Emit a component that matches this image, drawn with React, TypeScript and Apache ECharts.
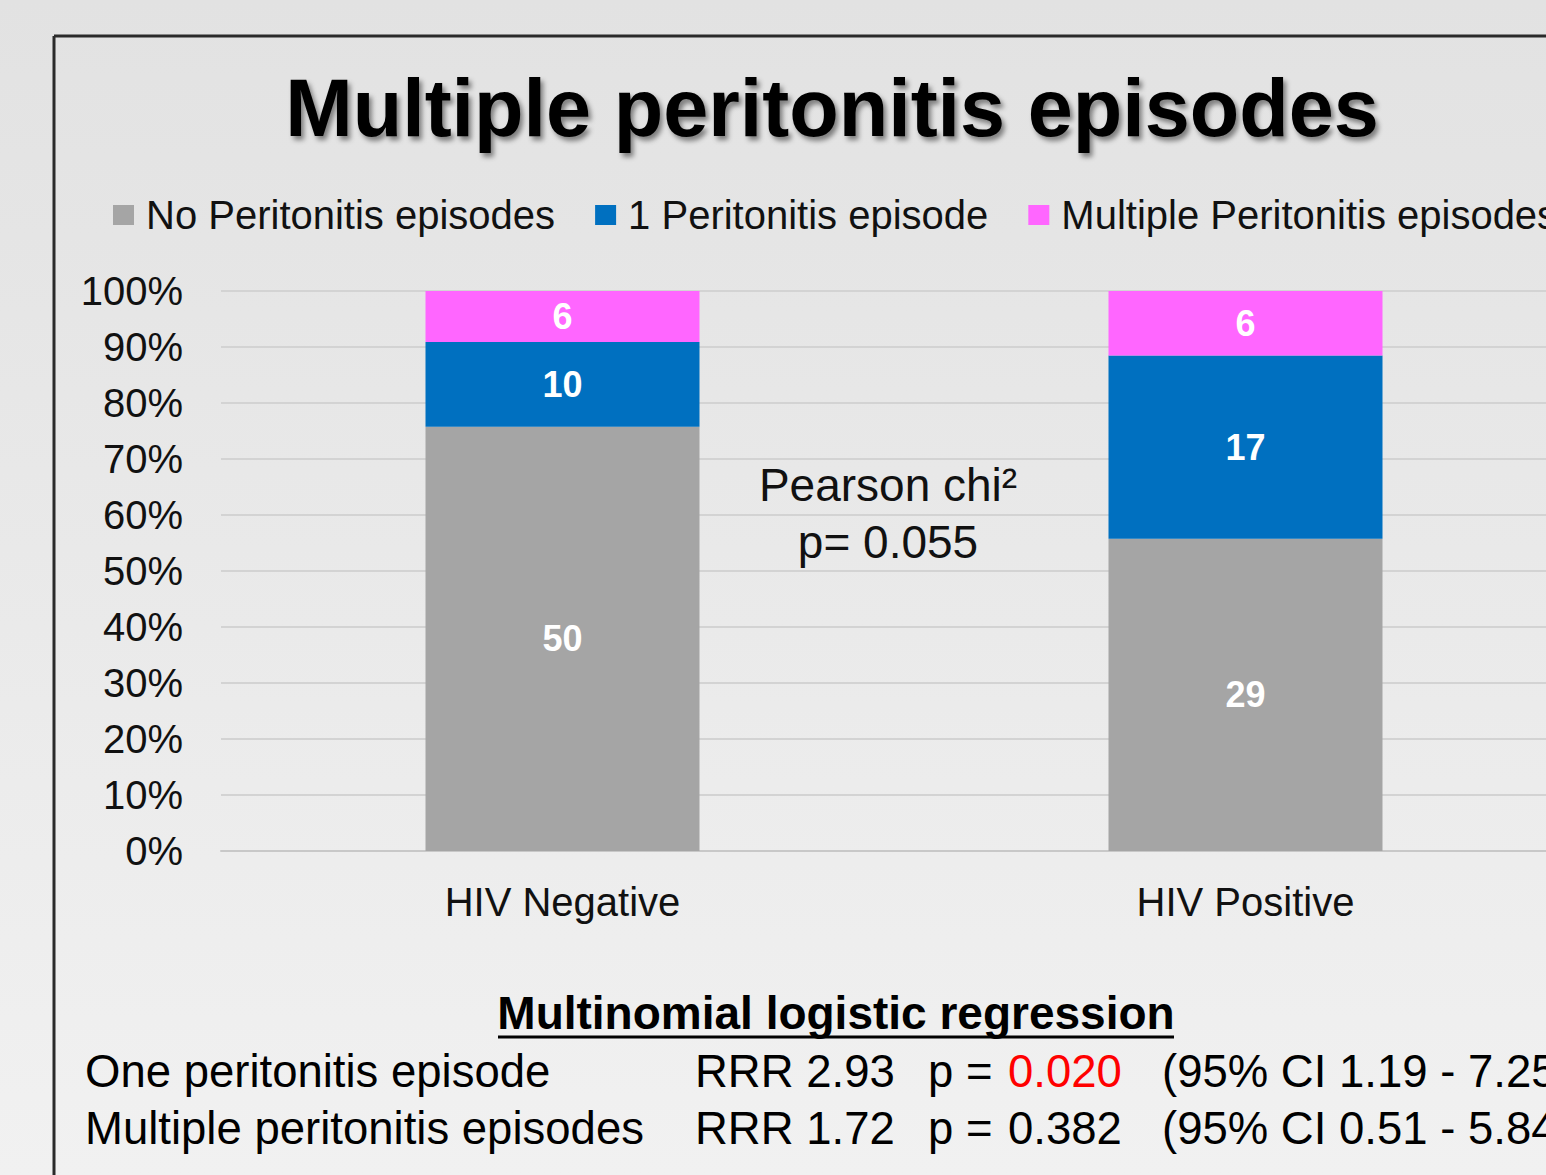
import React, { useEffect, useRef } from "react";
import * as echarts from "echarts";

const categories = ["HIV Negative", "HIV Positive"];
const seriesNames = ["No Peritonitis episodes", "1 Peritonitis episode", "Multiple Peritonitis episodes"];
const noEpisodes = [50, 29];
const oneEpisode = [10, 17];
const multipleEpisodes = [6, 6];
const seriesColors = ["#a5a5a5", "#0070c0", "#ff66ff"];
const yTicks = [0, 10, 20, 30, 40, 50, 60, 70, 80, 90, 100];

const FONT = "'Liberation Sans', Arial, sans-serif";

export default function App() {
  const ref = useRef<HTMLDivElement>(null);
  useEffect(() => {
    if (!ref.current) return;
    const chart = echarts.init(ref.current, null, { renderer: "svg" });
    const counts = [noEpisodes, oneEpisode, multipleEpisodes];
    const totals = categories.map((_, i) => counts.reduce((s, arr) => s + arr[i], 0));
    const series = counts.map((arr, si) => ({
      name: seriesNames[si],
      type: "bar",
      stack: "total",
      barWidth: 274,
      itemStyle: { color: seriesColors[si] },
      data: arr.map((v, i) => ({ value: (v / totals[i]) * 100, count: v })),
      label: {
        show: true,
        position: "inside",
        color: "#ffffff",
        fontFamily: FONT,
        fontWeight: "bold",
        fontSize: 36,
        formatter: (p: any) => String(p.data.count),
      },
    }));
    const T = (x: number, y: number, text: string, fill = "#000", size = 45.5) => ({
      type: "text",
      x,
      y,
      style: { text, font: `${size}px ${FONT}`, fill, verticalAlign: "middle" },
    });
    chart.setOption({
      animation: false,
      backgroundColor: {
        type: "linear", x: 0, y: 0, x2: 0, y2: 1,
        colorStops: [
          { offset: 0, color: "#e2e2e2" },
          { offset: 1, color: "#f1f1f1" },
        ],
      },
      textStyle: { fontFamily: FONT },
      legend: {
        left: 113,
        top: 195,
        padding: 0,
        icon: "rect",
        itemWidth: 21,
        itemHeight: 20,
        itemGap: 40,
        textStyle: { fontFamily: FONT, fontSize: 40, color: "#111", padding: [0, 0, 0, 7] },
        data: seriesNames,
      },
      grid: { left: 221, right: 1, top: 291, bottom: 324, containLabel: false },
      xAxis: {
        type: "category",
        data: categories,
        axisTick: { show: false },
        axisLine: { lineStyle: { color: "#c8c8c8", width: 2 } },
        axisLabel: { fontFamily: FONT, fontSize: 40, color: "#111", margin: 31 },
      },
      yAxis: {
        type: "value",
        min: 0,
        max: 100,
        interval: 10,
        axisLine: { show: false },
        axisTick: { show: false },
        splitLine: { lineStyle: { color: "#d3d3d3", width: 2 } },
        axisLabel: {
          fontFamily: FONT, fontSize: 40, color: "#111", margin: 38,
          formatter: (v: number) => (yTicks.includes(v) ? v + "%" : ""),
        },
      },
      series,
      graphic: [
        {
          type: "line",
          shape: { x1: 54, y1: 36, x2: 1588, y2: 36 },
          style: { stroke: "#2a2a2a", lineWidth: 3 },
          z: 100,
        },
        {
          type: "line",
          shape: { x1: 54, y1: 36, x2: 54, y2: 1175 },
          style: { stroke: "#2a2a2a", lineWidth: 3 },
          z: 100,
        },
        {
          type: "text",
          x: 832,
          y: 108,
          style: {
            text: "Multiple peritonitis episodes",
            font: `bold 81px ${FONT}`,
            fill: "#000",
            align: "center",
            verticalAlign: "middle",
            textShadowColor: "rgba(0,0,0,0.45)",
            textShadowBlur: 5,
            textShadowOffsetX: 3,
            textShadowOffsetY: 4,
          },
        },
        {
          type: "text",
          x: 888,
          y: 485,
          style: { text: "Pearson chi²", font: `46px ${FONT}`, fill: "#111", align: "center", verticalAlign: "middle" },
        },
        {
          type: "text",
          x: 888,
          y: 542,
          style: { text: "p= 0.055", font: `46px ${FONT}`, fill: "#111", align: "center", verticalAlign: "middle" },
        },
        {
          type: "text",
          x: 836,
          y: 1013,
          style: { text: "Multinomial logistic regression", font: `bold 46px ${FONT}`, fill: "#000", align: "center", verticalAlign: "middle" },
        },
        {
          type: "line",
          shape: { x1: 498, y1: 1037, x2: 1174, y2: 1037 },
          style: { stroke: "#000", lineWidth: 3 },
        },
        T(85, 1071, "One peritonitis episode"),
        T(85, 1128, "Multiple peritonitis episodes"),
        T(695, 1071, "RRR 2.93"),
        T(695, 1128, "RRR 1.72"),
        T(928, 1071, "p ="),
        T(1008, 1071, "0.020", "#ff0000"),
        T(928, 1128, "p ="),
        T(1008, 1128, "0.382"),
        T(1162, 1071, "(95% CI 1.19 - 7.25)"),
        T(1162, 1128, "(95% CI 0.51 - 5.84)"),
      ],
    });
    return () => chart.dispose();
  }, []);
  return (
    <div style={{ position: "fixed", left: 0, top: 0, width: 1546, height: 1175, overflow: "hidden" }}>
      <div ref={ref} style={{ width: 1588, height: 1175 }} />
    </div>
  );
}
